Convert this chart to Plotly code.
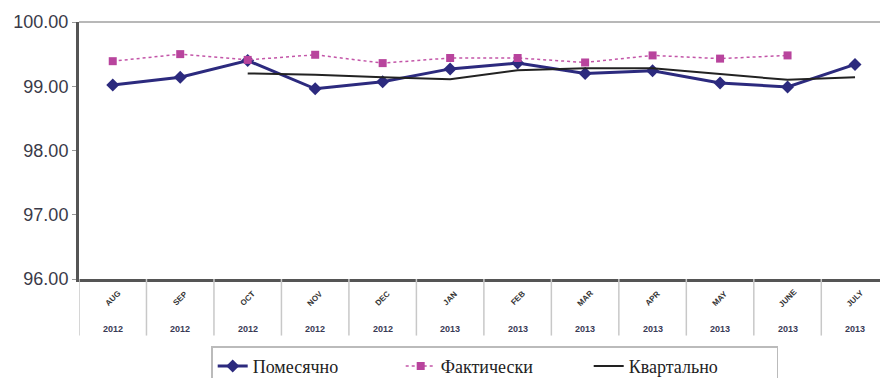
import plotly.graph_objects as go

months = ["AUG", "SEP", "OCT", "NOV", "DEC", "JAN", "FEB", "MAR", "APR", "MAY", "JUNE", "JULY"]
years = ["2012", "2012", "2012", "2012", "2012", "2013", "2013", "2013", "2013", "2013", "2013", "2013"]
monthly = [99.02, 99.14, 99.40, 98.96, 99.07, 99.27, 99.36, 99.20, 99.24, 99.05, 98.99, 99.34]
actual = [99.39, 99.50, 99.41, 99.49, 99.36, 99.44, 99.44, 99.37, 99.48, 99.43, 99.48, None]
quarterly = [None, None, 99.20, 99.18, 99.14, 99.11, 99.25, 99.28, 99.28, 99.19, 99.10, 99.14]

idx = list(range(len(months)))

fig = go.Figure()
fig.add_trace(go.Scatter(x=idx, y=monthly, name="Помесячно", mode="lines+markers",
                         line=dict(color="#2c2a7e", width=3),
                         marker=dict(symbol="diamond", size=10, color="#2c2a7e")))
fig.add_trace(go.Scatter(x=idx, y=actual, name="Фактически", mode="lines+markers",
                         line=dict(color="#c355a8", width=1.5, dash="dot"),
                         marker=dict(symbol="square", size=8, color="#b8449d")))
fig.add_trace(go.Scatter(x=idx, y=quarterly, name="Квартально", mode="lines",
                         line=dict(color="#222222", width=2)))

shapes = []
# top border
shapes.append(dict(type="line", xref="paper", yref="paper", x0=0, x1=1, y0=1, y1=1,
                   line=dict(color="#b8b8b8", width=2)))
# category separators below the axis
for i in range(len(months) + 1):
    shapes.append(dict(type="line", xref="x", yref="paper", x0=i - 0.5, x1=i - 0.5,
                       y0=0, y1=-0.22, line=dict(color="#c8c8c8", width=1.5)))

annotations = []
for i, (m, yr) in enumerate(zip(months, years)):
    annotations.append(dict(x=i, y=-0.075, xref="x", yref="paper", text="<b>" + m + "</b>", showarrow=False,
                            textangle=-45, font=dict(family="Liberation Sans", size=8, color="#333"),
                            xanchor="center", yanchor="middle"))
    annotations.append(dict(x=i, y=-0.195, xref="x", yref="paper", text="<b>" + yr + "</b>", showarrow=False,
                            font=dict(family="Liberation Sans", size=9, color="#3a3a55"),
                            xanchor="center", yanchor="middle"))

fig.update_layout(
    width=880, height=378,
    margin=dict(l=79, r=0, t=22, b=99),
    paper_bgcolor="white", plot_bgcolor="white",
    shapes=shapes, annotations=annotations,
    xaxis=dict(range=[-0.5, 11.37], showticklabels=False, showgrid=False, zeroline=False,
               showline=True, linecolor="#555555", linewidth=3, ticks=""),
    yaxis=dict(range=[96, 100], tickvals=[96, 97, 98, 99, 100], ticktext=["96.00", "97.00", "98.00", "99.00", "100.00"],
               showgrid=False, zeroline=False, showline=True, linecolor="#555555", linewidth=3,
               ticks="outside", ticklen=4, tickcolor="#999",
               tickfont=dict(family="Liberation Sans", size=18, color="#3a3a48")),
    legend=dict(orientation="h", xref="container", yref="container",
                x=0.24, xanchor="left", y=0.084, yanchor="top",
                bordercolor="#bbbbbb", borderwidth=1.5, entrywidth=143,
                font=dict(family="Liberation Serif", size=18, color="#222")),
    showlegend=True,
)

fig.write_html("out.html")
